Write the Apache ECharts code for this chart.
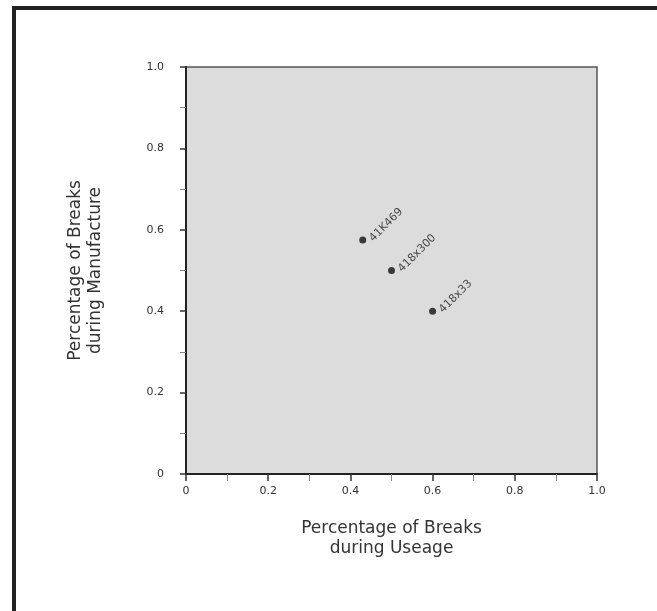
<!DOCTYPE html>
<html>
<head>
<meta charset="utf-8">
<script src="https://cdn.jsdelivr.net/npm/echarts@6/dist/echarts.min.js"></script>
<style>
html,body{margin:0;padding:0;background:#fff;}
#c{width:657px;height:611px;}
</style>
</head>
<body>
<div id="c"></div>
<script>
var pointNames = ["41K469", "418x300", "418x33"];
var useageValues = [0.43, 0.50, 0.60];
var manufactureValues = [0.575, 0.50, 0.40];
var xTickLabels = ["0", "0.2", "0.4", "0.6", "0.8", "1.0"];
var yTickLabels = ["0", "0.2", "0.4", "0.6", "0.8", "1.0"];

var FONT = "'DejaVu Sans', sans-serif";
var chart = echarts.init(document.getElementById('c'), null, {renderer: 'canvas'});

var data = pointNames.map(function (n, i) {
  return {name: n, value: [useageValues[i], manufactureValues[i]]};
});

function tickFmt(labels) {
  return function (v) {
    var idx = Math.round(v / 0.2);
    return labels[idx] !== undefined ? labels[idx] : '';
  };
}

chart.setOption({
  animation: false,
  backgroundColor: '#ffffff',
  grid: {
    left: 186, top: 67, width: 411, height: 407,
    show: true, backgroundColor: '#dcdcdc',
    borderColor: '#555', borderWidth: 1.5
  },
  graphic: [
    {type: 'line', shape: {x1: 12, y1: 8, x2: 657, y2: 8}, style: {stroke: '#222', lineWidth: 4}, silent: true},
    {type: 'line', shape: {x1: 14, y1: 6, x2: 14, y2: 611}, style: {stroke: '#222', lineWidth: 4}, silent: true}
  ],
  xAxis: {
    type: 'value', min: 0, max: 1, interval: 0.2,
    name: 'Percentage of Breaks\nduring Useage',
    nameLocation: 'middle', nameGap: 45,
    nameTextStyle: {fontFamily: FONT, fontSize: 17, color: '#333', lineHeight: 20},
    axisLine: {show: true, onZero: false, lineStyle: {color: '#222', width: 2}},
    axisTick: {show: true, length: 7, lineStyle: {color: '#333', width: 1.5}},
    minorTick: {show: true, splitNumber: 2, length: 7, lineStyle: {color: '#888', width: 1}},
    splitLine: {show: false},
    axisLabel: {fontFamily: FONT, fontSize: 11, color: '#333', margin: 12, formatter: tickFmt(xTickLabels)}
  },
  yAxis: {
    type: 'value', min: 0, max: 1, interval: 0.2,
    name: 'Percentage of Breaks\nduring Manufacture',
    nameLocation: 'middle', nameGap: 80, nameRotate: 90,
    nameTextStyle: {fontFamily: FONT, fontSize: 17, color: '#333', lineHeight: 20},
    axisLine: {show: true, onZero: false, lineStyle: {color: '#222', width: 2}},
    axisTick: {show: true, length: 6, lineStyle: {color: '#333', width: 1.5}},
    minorTick: {show: true, splitNumber: 2, length: 6, lineStyle: {color: '#888', width: 1}},
    splitLine: {show: false},
    axisLabel: {fontFamily: FONT, fontSize: 11, color: '#333', margin: 22, formatter: tickFmt(yTickLabels)}
  },
  series: [{
    type: 'scatter',
    symbol: 'circle', symbolSize: 7,
    itemStyle: {color: '#111'},
    data: data,
    label: {
      show: true, position: 'right', distance: 5, rotate: 45,
      formatter: '{b}', fontFamily: FONT, fontSize: 11, color: '#222'
    }
  }]
});
</script>
</body>
</html>
